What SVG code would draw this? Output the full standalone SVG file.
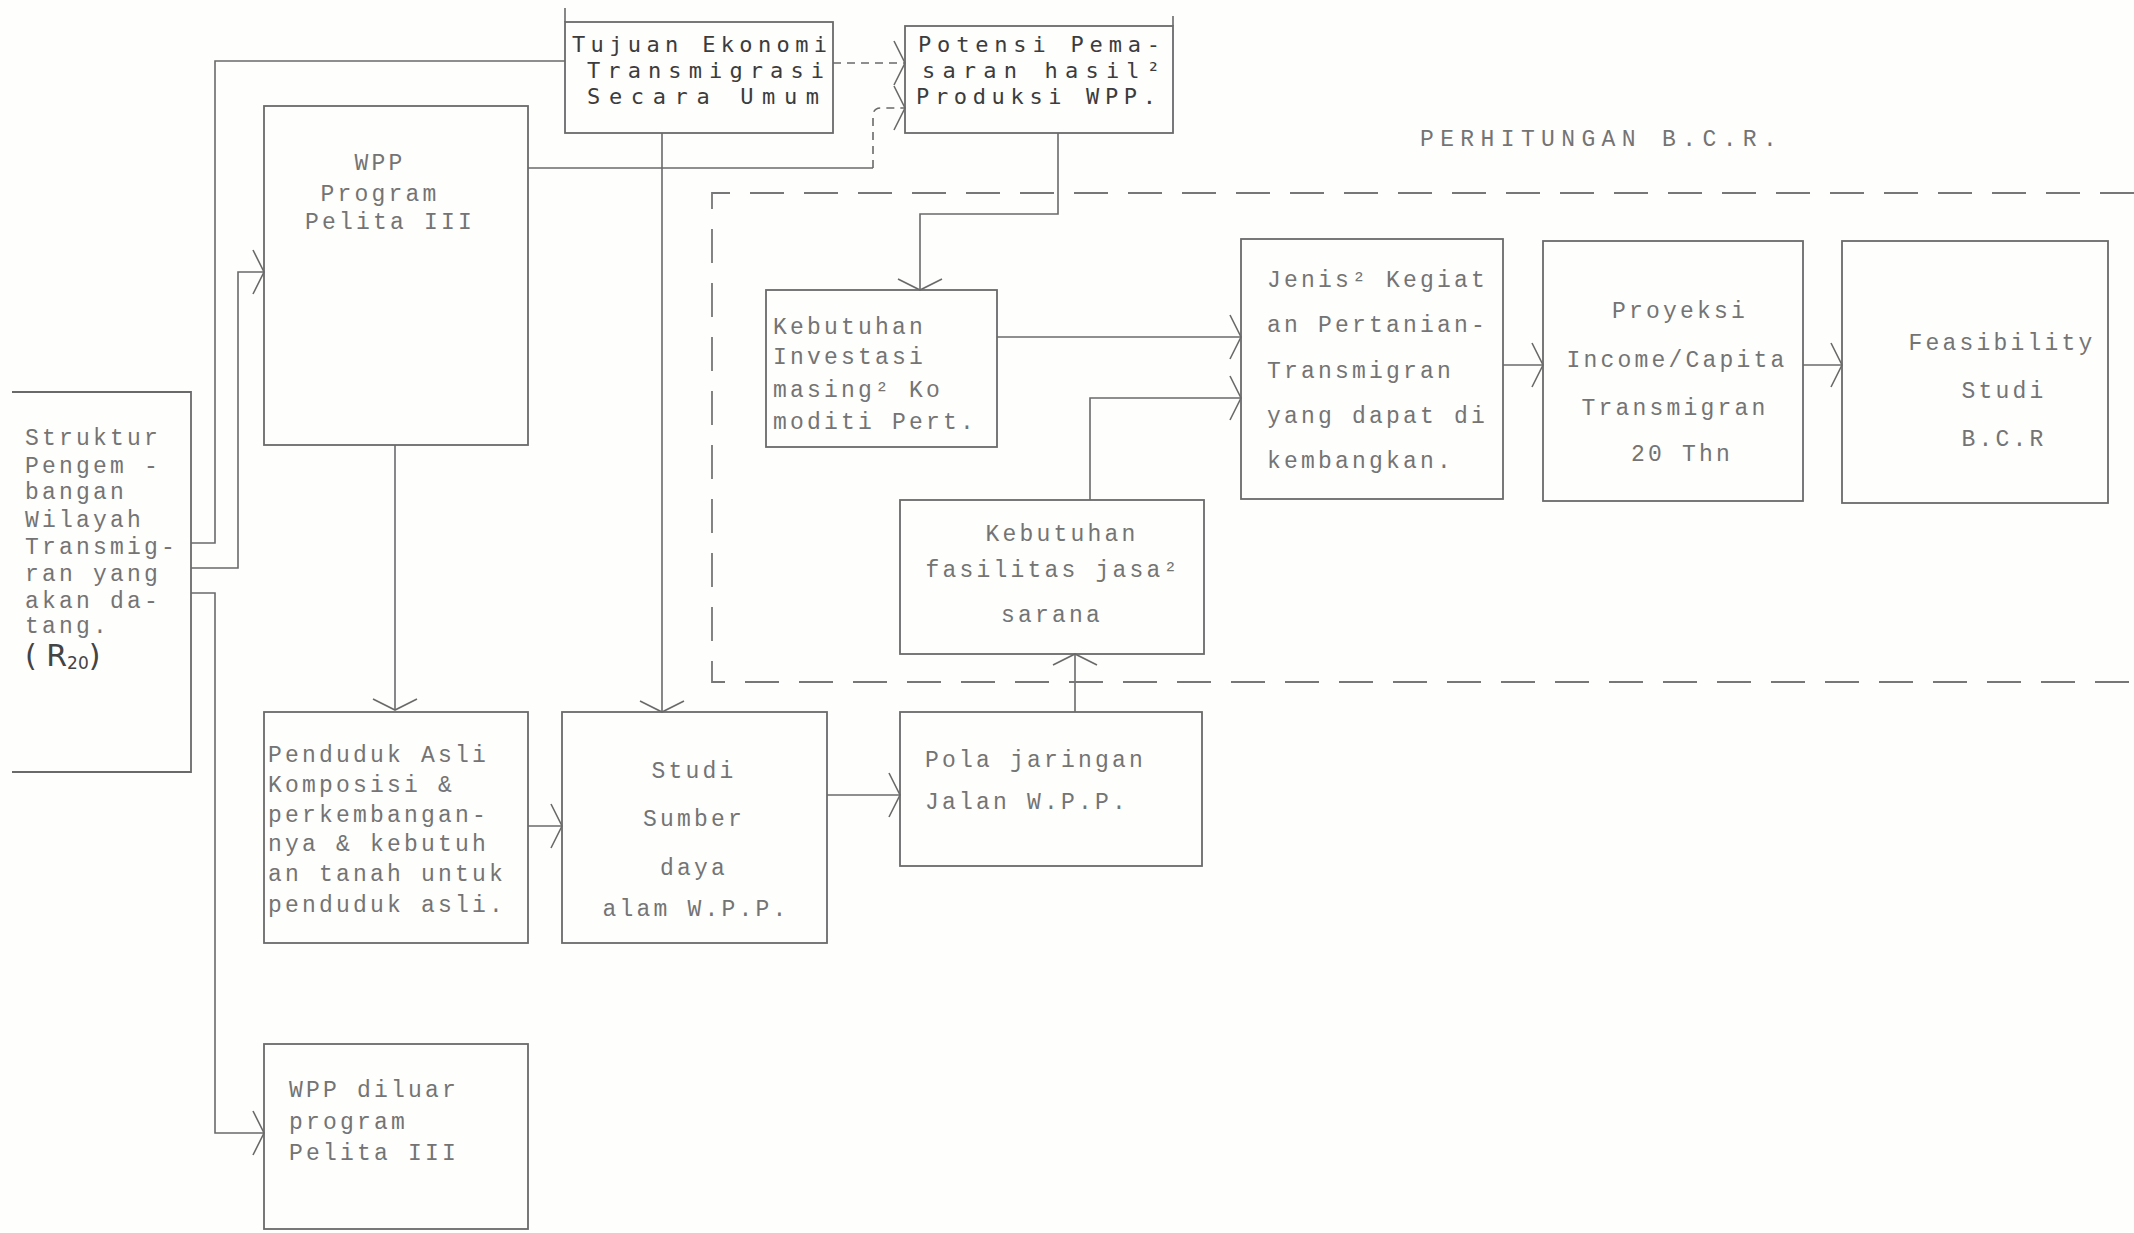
<svg xmlns="http://www.w3.org/2000/svg" width="2134" height="1233" viewBox="0 0 2134 1233">
<style>
.bg{fill:#fefefd}
.box{fill:none;stroke:#6a6a6a;stroke-width:1.8}
.ln{fill:none;stroke:#6a6a6a;stroke-width:1.6}
.dl{fill:none;stroke:#6a6a6a;stroke-width:1.6;stroke-dasharray:8 6}
.reg{fill:none;stroke:#777;stroke-width:1.8;stroke-dasharray:34 20}
.tw{font-family:"Liberation Mono","DejaVu Sans Mono",monospace;font-size:23px;letter-spacing:3.2px;fill:#747474}
.hw{font-family:"DejaVu Sans Mono","Liberation Mono",monospace;font-size:22px;fill:#3c3c3c}
.mid{text-anchor:middle}
</style>
<defs>
<marker id="ah" markerUnits="userSpaceOnUse" markerWidth="40" markerHeight="60" refX="0" refY="0" orient="auto" overflow="visible">
<path d="M-11,-22 L0,0 L-11,22" fill="none" stroke="#6a6a6a" stroke-width="1.6"/>
</marker>
</defs>
<rect class="bg" x="0" y="0" width="2134" height="1233"/>

<g id="connectors">
<path class="ln" d="M191,543 H215 V61 H565"/>
<path class="ln" d="M191,568 H238 V272 H264" marker-end="url(#ah)"/>
<path class="ln" d="M191,593 H215 V1133 H264" marker-end="url(#ah)"/>
<path class="ln" d="M395,445 V710" marker-end="url(#ah)"/>
<path class="ln" d="M662,133 V712" marker-end="url(#ah)"/>
<path class="ln" d="M528,168 H873"/>
<path class="dl" d="M873,168 V116 Q873,108 881,108 H905" marker-end="url(#ah)"/>
<path class="dl" d="M833,63 H905" marker-end="url(#ah)"/>
<path class="ln" d="M1058,133 V214 H920 V290" marker-end="url(#ah)"/>
<path class="ln" d="M997,337 H1241" marker-end="url(#ah)"/>
<path class="ln" d="M1090,500 V398 H1241" marker-end="url(#ah)"/>
<path class="ln" d="M1075,712 V654" marker-end="url(#ah)"/>
<path class="ln" d="M528,826 H562" marker-end="url(#ah)"/>
<path class="ln" d="M827,795 H900" marker-end="url(#ah)"/>
<path class="ln" d="M1503,365 H1543" marker-end="url(#ah)"/>
<path class="ln" d="M1803,365 H1842" marker-end="url(#ah)"/>
</g>

<g id="region-bcr">
<path class="reg" d="M2134,193 H712 V682 H2134"/>
<text class="tw" x="1420" y="146" textLength="360" lengthAdjust="spacing">PERHITUNGAN  B.C.R.</text>
</g>

<g id="tujuan">
<rect class="box" x="565" y="22" width="268" height="111"/>
<path class="ln" d="M565,22 V8"/>
<text class="hw" x="572" y="52" textLength="255" lengthAdjust="spacing">Tujuan Ekonomi</text>
<text class="hw" x="587" y="78" textLength="237" lengthAdjust="spacing">Transmigrasi</text>
<text class="hw" x="587" y="104" textLength="232" lengthAdjust="spacing">Secara  Umum</text>
</g>

<g id="potensi">
<rect class="box" x="905" y="26" width="268" height="107"/>
<path class="ln" d="M1173,26 V16"/>
<text class="hw" x="918" y="52" textLength="242" lengthAdjust="spacing">Potensi Pema-</text>
<text class="hw" x="922" y="78" textLength="238" lengthAdjust="spacing">saran  hasil²</text>
<text class="hw" x="916" y="104" textLength="240" lengthAdjust="spacing">Produksi WPP.</text>
</g>

<g id="wpp-program">
<rect class="box" x="264" y="106" width="264" height="339"/>
<text class="tw mid" x="380" y="170">WPP</text>
<text class="tw mid" x="380" y="201">Program</text>
<text class="tw mid" x="390" y="229">Pelita III</text>
</g>

<g id="struktur">
<path class="box" d="M12,392 H191 V772 H12"/>
<text class="tw" x="25" y="445">Struktur</text>
<text class="tw" x="25" y="473">Pengem -</text>
<text class="tw" x="25" y="499">bangan</text>
<text class="tw" x="25" y="527">Wilayah</text>
<text class="tw" x="25" y="554">Transmig-</text>
<text class="tw" x="25" y="581">ran yang</text>
<text class="tw" x="25" y="608">akan da-</text>
<text class="tw" x="25" y="633">tang.</text>
<text x="25" y="666" style="font-family:'DejaVu Sans','Liberation Sans',sans-serif;font-size:30px;fill:#444">( R<tspan font-size="17" dy="3">20</tspan><tspan dy="-3">)</tspan></text>
</g>

<g id="kebutuhan-investasi">
<rect class="box" x="766" y="290" width="231" height="157"/>
<text class="tw" x="773" y="334">Kebutuhan</text>
<text class="tw" x="773" y="364">Investasi</text>
<text class="tw" x="773" y="397">masing² Ko</text>
<text class="tw" x="773" y="429">moditi Pert.</text>
</g>

<g id="jenis">
<rect class="box" x="1241" y="239" width="262" height="260"/>
<text class="tw" x="1267" y="287">Jenis² Kegiat</text>
<text class="tw" x="1267" y="332">an Pertanian-</text>
<text class="tw" x="1267" y="378">Transmigran</text>
<text class="tw" x="1267" y="423">yang dapat di</text>
<text class="tw" x="1267" y="468">kembangkan.</text>
</g>

<g id="proyeksi">
<rect class="box" x="1543" y="241" width="260" height="260"/>
<text class="tw mid" x="1680" y="318">Proyeksi</text>
<text class="tw mid" x="1677" y="367">Income/Capita</text>
<text class="tw mid" x="1675" y="415">Transmigran</text>
<text class="tw mid" x="1682" y="461">20 Thn</text>
</g>

<g id="feasibility">
<rect class="box" x="1842" y="241" width="266" height="262"/>
<text class="tw mid" x="2002" y="350">Feasibility</text>
<text class="tw mid" x="2004" y="398">Studi</text>
<text class="tw mid" x="2004" y="446">B.C.R</text>
</g>

<g id="kebutuhan-fasilitas">
<rect class="box" x="900" y="500" width="304" height="154"/>
<text class="tw mid" x="1062" y="541">Kebutuhan</text>
<text class="tw mid" x="1053" y="577">fasilitas jasa²</text>
<text class="tw mid" x="1052" y="622">sarana</text>
</g>

<g id="pola">
<rect class="box" x="900" y="712" width="302" height="154"/>
<text class="tw" x="925" y="767">Pola jaringan</text>
<text class="tw" x="925" y="809">Jalan W.P.P.</text>
</g>

<g id="penduduk">
<rect class="box" x="264" y="712" width="264" height="231"/>
<text class="tw" x="268" y="762">Penduduk Asli</text>
<text class="tw" x="268" y="792">Komposisi &amp;</text>
<text class="tw" x="268" y="822">perkembangan-</text>
<text class="tw" x="268" y="851">nya &amp; kebutuh</text>
<text class="tw" x="268" y="881">an tanah untuk</text>
<text class="tw" x="268" y="912">penduduk asli.</text>
</g>

<g id="studi">
<rect class="box" x="562" y="712" width="265" height="231"/>
<text class="tw mid" x="694" y="778">Studi</text>
<text class="tw mid" x="694" y="826">Sumber</text>
<text class="tw mid" x="694" y="875">daya</text>
<text class="tw mid" x="696" y="916">alam W.P.P.</text>
</g>

<g id="wpp-diluar">
<rect class="box" x="264" y="1044" width="264" height="185"/>
<text class="tw" x="289" y="1097">WPP diluar</text>
<text class="tw" x="289" y="1129">program</text>
<text class="tw" x="289" y="1160">Pelita III</text>
</g>
</svg>
